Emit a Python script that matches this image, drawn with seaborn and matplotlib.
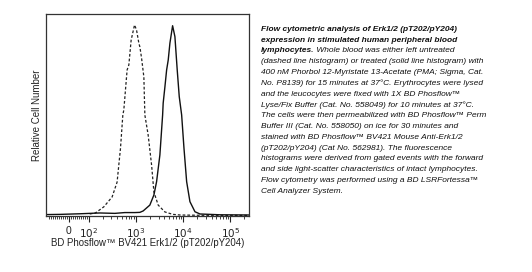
import numpy as np
import pandas as pd
import matplotlib
matplotlib.use("Agg")
import matplotlib.pyplot as plt
import seaborn as sns
from matplotlib.ticker import FixedLocator, FixedFormatter, NullFormatter

# ---- data ----
untreated_x = [104, 137, 206, 310, 396, 468, 524, 550, 646, 703, 787, 929, 1023, 1146,
               1205, 1309, 1465, 1538, 1807, 2138, 2393, 2951, 4102, 6067, 8550, 22750, 250000]
untreated_y = [1.0, 1.5, 4.5, 9.4, 16.8, 33.7, 50.0, 52.5, 72.3, 74.8, 87.1, 94.6, 92.1, 85.6,
               83.7, 78.2, 68.8, 50.0, 40.1, 25.2, 11.9, 5.4, 2.0, 0.8, 0.5, 0.35, 0.3]

treated_x = [-115, -44.5, 54.4, 170, 354, 577, 942, 1205, 1415, 1963, 2393, 2729, 3206, 3664,
             3767, 4102, 4457, 4819, 5236, 5970, 6683, 7482, 8260, 9290, 10400, 11860,
             13930, 17820, 22750, 60700, 250000]
treated_y = [0.7, 0.8, 1.1, 1.5, 1.3, 1.7, 1.7, 1.8, 2.5, 5.4, 10.4, 17.0, 30.2, 50.0,
             55.9, 64.0, 72.3, 77.2, 85.6, 94.2, 88.8, 72.3, 59.1, 50.0, 33.7, 17.0,
             7.1, 2.1, 1.0, 0.6, 0.5]

major_ticks = [0, 100, 1000, 10000, 100000]
major_labels = ["0", "$10^2$", "$10^3$", "$10^4$", "$10^5$"]

x_label = "BD Phosflow\u2122 BV421 Erk1/2 (pT202/pY204)"
y_label = "Relative Cell Number"

caption_bold = ["Flow cytometric analysis of Erk1/2 (pT202/pY204)",
                "expression in stimulated human peripheral blood",
                "lymphocytes."]
caption_lines = [
    " Whole blood was either left untreated",
    "(dashed line histogram) or treated (solid line histogram) with",
    "400 nM Phorbol 12-Myristate 13-Acetate (PMA; Sigma, Cat.",
    "No. P8139) for 15 minutes at 37\u00b0C. Erythrocytes were lysed",
    "and the leucocytes were fixed with 1X BD Phosflow\u2122",
    "Lyse/Fix Buffer (Cat. No. 558049) for 10 minutes at 37\u00b0C.",
    "The cells were then permeabilized with BD Phosflow\u2122 Perm",
    "Buffer III (Cat. No. 558050) on ice for 30 minutes and",
    "stained with BD Phosflow\u2122 BV421 Mouse Anti-Erk1/2",
    "(pT202/pY204) (Cat No. 562981). The fluorescence",
    "histograms were derived from gated events with the forward",
    "and side light-scatter characteristics of intact lymphocytes.",
    "Flow cytometry was performed using a BD LSRFortessa\u2122",
    "Cell Analyzer System.",
]

sns.set_theme(style="white")
plt.rcParams['font.family'] = ['Liberation Sans', 'DejaVu Sans']

fig = plt.figure(figsize=(5.32, 2.72), dpi=100)
ax = fig.add_axes([46/532, 1-216/272, (249-46)/532, (216-14)/272])

df_u = pd.DataFrame({"x": untreated_x, "y": untreated_y})
df_t = pd.DataFrame({"x": treated_x, "y": treated_y})
sns.lineplot(data=df_u, x="x", y="y", ax=ax, color="#222222", lw=0.9,
             linestyle=(0, (2.2, 1.6)), estimator=None, sort=False)
sns.lineplot(data=df_t, x="x", y="y", ax=ax, color="#111111", lw=1.0,
             estimator=None, sort=False)

ax.set_xscale("symlog", linthresh=100, linscale=0.383)
ax.set_xlim(-115, 250000)
ax.set_ylim(0, 100)

minor = [-v for v in range(10, 101, 10)] + list(range(10, 100, 10))
for d in [100, 1000, 10000, 100000]:
    minor += [k * d for k in range(2, 10) if k * d < 250000]
ax.xaxis.set_major_locator(FixedLocator(major_ticks))
ax.xaxis.set_major_formatter(FixedFormatter(major_labels))
ax.xaxis.set_minor_locator(FixedLocator(minor))
ax.xaxis.set_minor_formatter(NullFormatter())
ax.tick_params(axis="x", which="major", direction="out", length=4, width=0.8,
               colors="#222222", labelsize=7.5, pad=3, bottom=True)
ax.tick_params(axis="x", which="minor", direction="out", length=2.2, width=0.6,
               colors="#222222", bottom=True)
ax.set_yticks([])
for s in ax.spines.values():
    s.set_color("#333333")
    s.set_linewidth(0.9)

ax.set_xlabel(x_label, fontsize=6.9, color="#222222", labelpad=-1)
ax.set_ylabel(y_label, fontsize=7.0, color="#222222", labelpad=3)

# caption
fs = 6.0
x0 = 261 / 532
y_first = 29.3
dy = 10.8
for i, t in enumerate(caption_bold):
    fig.text(x0, 1 - (y_first + i * dy) / 272, t, fontsize=fs, fontstyle="italic",
             fontweight="bold", va="center", ha="left", color="#111111")
fig.canvas.draw()
r = fig.canvas.get_renderer()
bt = fig.texts[2]
bb = bt.get_window_extent(renderer=r)
fig.text(bb.x1 / 532, 1 - (y_first + 2 * dy) / 272, caption_lines[0], fontsize=fs,
         fontstyle="italic", va="center", ha="left", color="#111111")
for j, t in enumerate(caption_lines[1:]):
    fig.text(x0, 1 - (y_first + (3 + j) * dy) / 272, t, fontsize=fs, fontstyle="italic",
             va="center", ha="left", color="#111111")

fig.savefig("out.png", dpi=100)
